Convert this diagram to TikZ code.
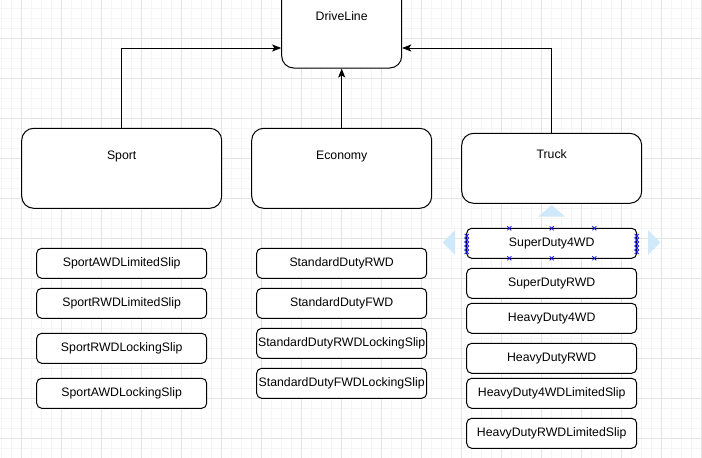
\documentclass[tikz,border=0pt]{standalone}
\usepackage{fontspec}
\setmainfont{Liberation Sans}
\usepackage{tikz}
\usetikzlibrary{positioning}
\usetikzlibrary{arrows.meta}
\definecolor{gridminor}{RGB}{245,245,245}
\definecolor{gridmajor}{RGB}{228,228,228}
\definecolor{handleblue}{RGB}{207,233,250}
\definecolor{pinblue}{RGB}{20,20,235}
\tikzset{%
  every class/.style={
    draw,
    line width=1pt,
    fill=white,
    rounded corners=12pt
  },
  class label/.style={
    font=\fontsize{12.3}{14}\selectfont
  },
  sub class/.style={
    draw,
    line width=1pt,
    fill=white,
    rounded corners=5pt,
    inner sep=1pt,
    minimum width=170pt,
    minimum height=30pt,
    font=\fontsize{12.3}{14}\selectfont
  },
  handle/.style={
    fill=handleblue,
    draw=none
  },
  pin/.style={
    draw=pinblue,
    line width=0.8pt
  },
}

\begin{document}
\begin{tikzpicture}[> = {Stealth[length=9pt,width=7pt,inset=2pt]}, x=1pt, y=-1pt]
\useasboundingbox (0,0) rectangle (702,458);
\clip (0,0) rectangle (702,458);
\fill[white] (0,0) rectangle (702,458);
% grid
\foreach \x in {1.5,11.5,...,701.5}
    \draw[gridminor, line width=1pt] (\x,0) -- (\x,458);
\foreach \y in {8.5,18.5,...,458}
    \draw[gridminor, line width=1pt] (0,\y) -- (702,\y);
\foreach \x in {21.5,61.5,...,701.5}
    \draw[gridmajor, line width=1pt] (\x,0) -- (\x,458);
\foreach \y in {38.5,78.5,...,458}
    \draw[gridmajor, line width=1pt] (0,\y) -- (702,\y);

% classes
\node[every class, minimum width=120pt, minimum height=80pt] (driveline) at (341.7,28) {};
\node[every class, minimum width=200pt, minimum height=80pt] (sport) at (121.7,168.3) {};
\node[every class, minimum width=180pt, minimum height=80pt] (economy) at (341.7,168.3) {};
\node[every class, minimum width=180pt, minimum height=70pt] (truck) at (551.7,168.3) {};

\node[class label] (driveline_label) at ([yshift=-28.5pt]driveline.north) {DriveLine};
\node[class label] (sport_label) at ([yshift=-28.5pt]sport.north) {Sport};
\node[class label] (economy_label) at ([yshift=-28.5pt]economy.north) {Economy};
\node[class label] (truck_label) at ([yshift=-21.5pt]truck.north) {Truck};

\draw[line width=1pt, ->] (sport.north) |- ([yshift=-20pt]driveline.west);
\draw[line width=1pt, ->] (economy.north) -- (driveline.south);
\draw[line width=1pt, ->] (truck.north) |- ([yshift=-20pt]driveline.east);

% sub classes
\foreach \y/\name [count=\i] in {263.3/SportAWDLimitedSlip, 303.3/SportRWDLimitedSlip,
        348.3/SportRWDLockingSlip, 393.3/SportAWDLockingSlip}
    \node[sub class] (sport_\i) at (121.7,\y) {\name};
\foreach \y/\name [count=\i] in {263.3/StandardDutyRWD, 303.3/StandardDutyFWD,
        343.3/StandardDutyRWDLockingSlip, 383.3/StandardDutyFWDLockingSlip}
    \node[sub class] (economy_\i) at (341.7,\y) {\name};
\foreach \y/\name [count=\i] in {243.3/SuperDuty4WD, 283.3/SuperDutyRWD, 318.3/HeavyDuty4WD,
        358.3/HeavyDutyRWD, 393.3/HeavyDuty4WDLimitedSlip, 433.3/HeavyDutyRWDLimitedSlip}
    \node[sub class] (truck_\i) at (551.7,\y) {\name};

% selection handles
\fill[handle] (538,216.7) -- (551.7,205) -- (565,216.7) -- cycle;
\fill[handle] (455,230) -- (442.7,242.5) -- (455,255) -- cycle;
\fill[handle] (648,230) -- (660.3,242.5) -- (648,255) -- cycle;
\foreach \x in {509.3,551.7,594.3}
    \foreach \y in {228.3,258.3}
        \draw[pin] (\x,\y) ++(-2,-2) -- ++(4,4) ++(-4,0) -- ++(4,-4);
\foreach \x in {466.7,636.7}
    \foreach \y in {236,240,244,248,252}
        \draw[pin] (\x,\y) ++(-2,-2) -- ++(4,4) ++(-4,0) -- ++(4,-4);
\end{tikzpicture}
\end{document}
